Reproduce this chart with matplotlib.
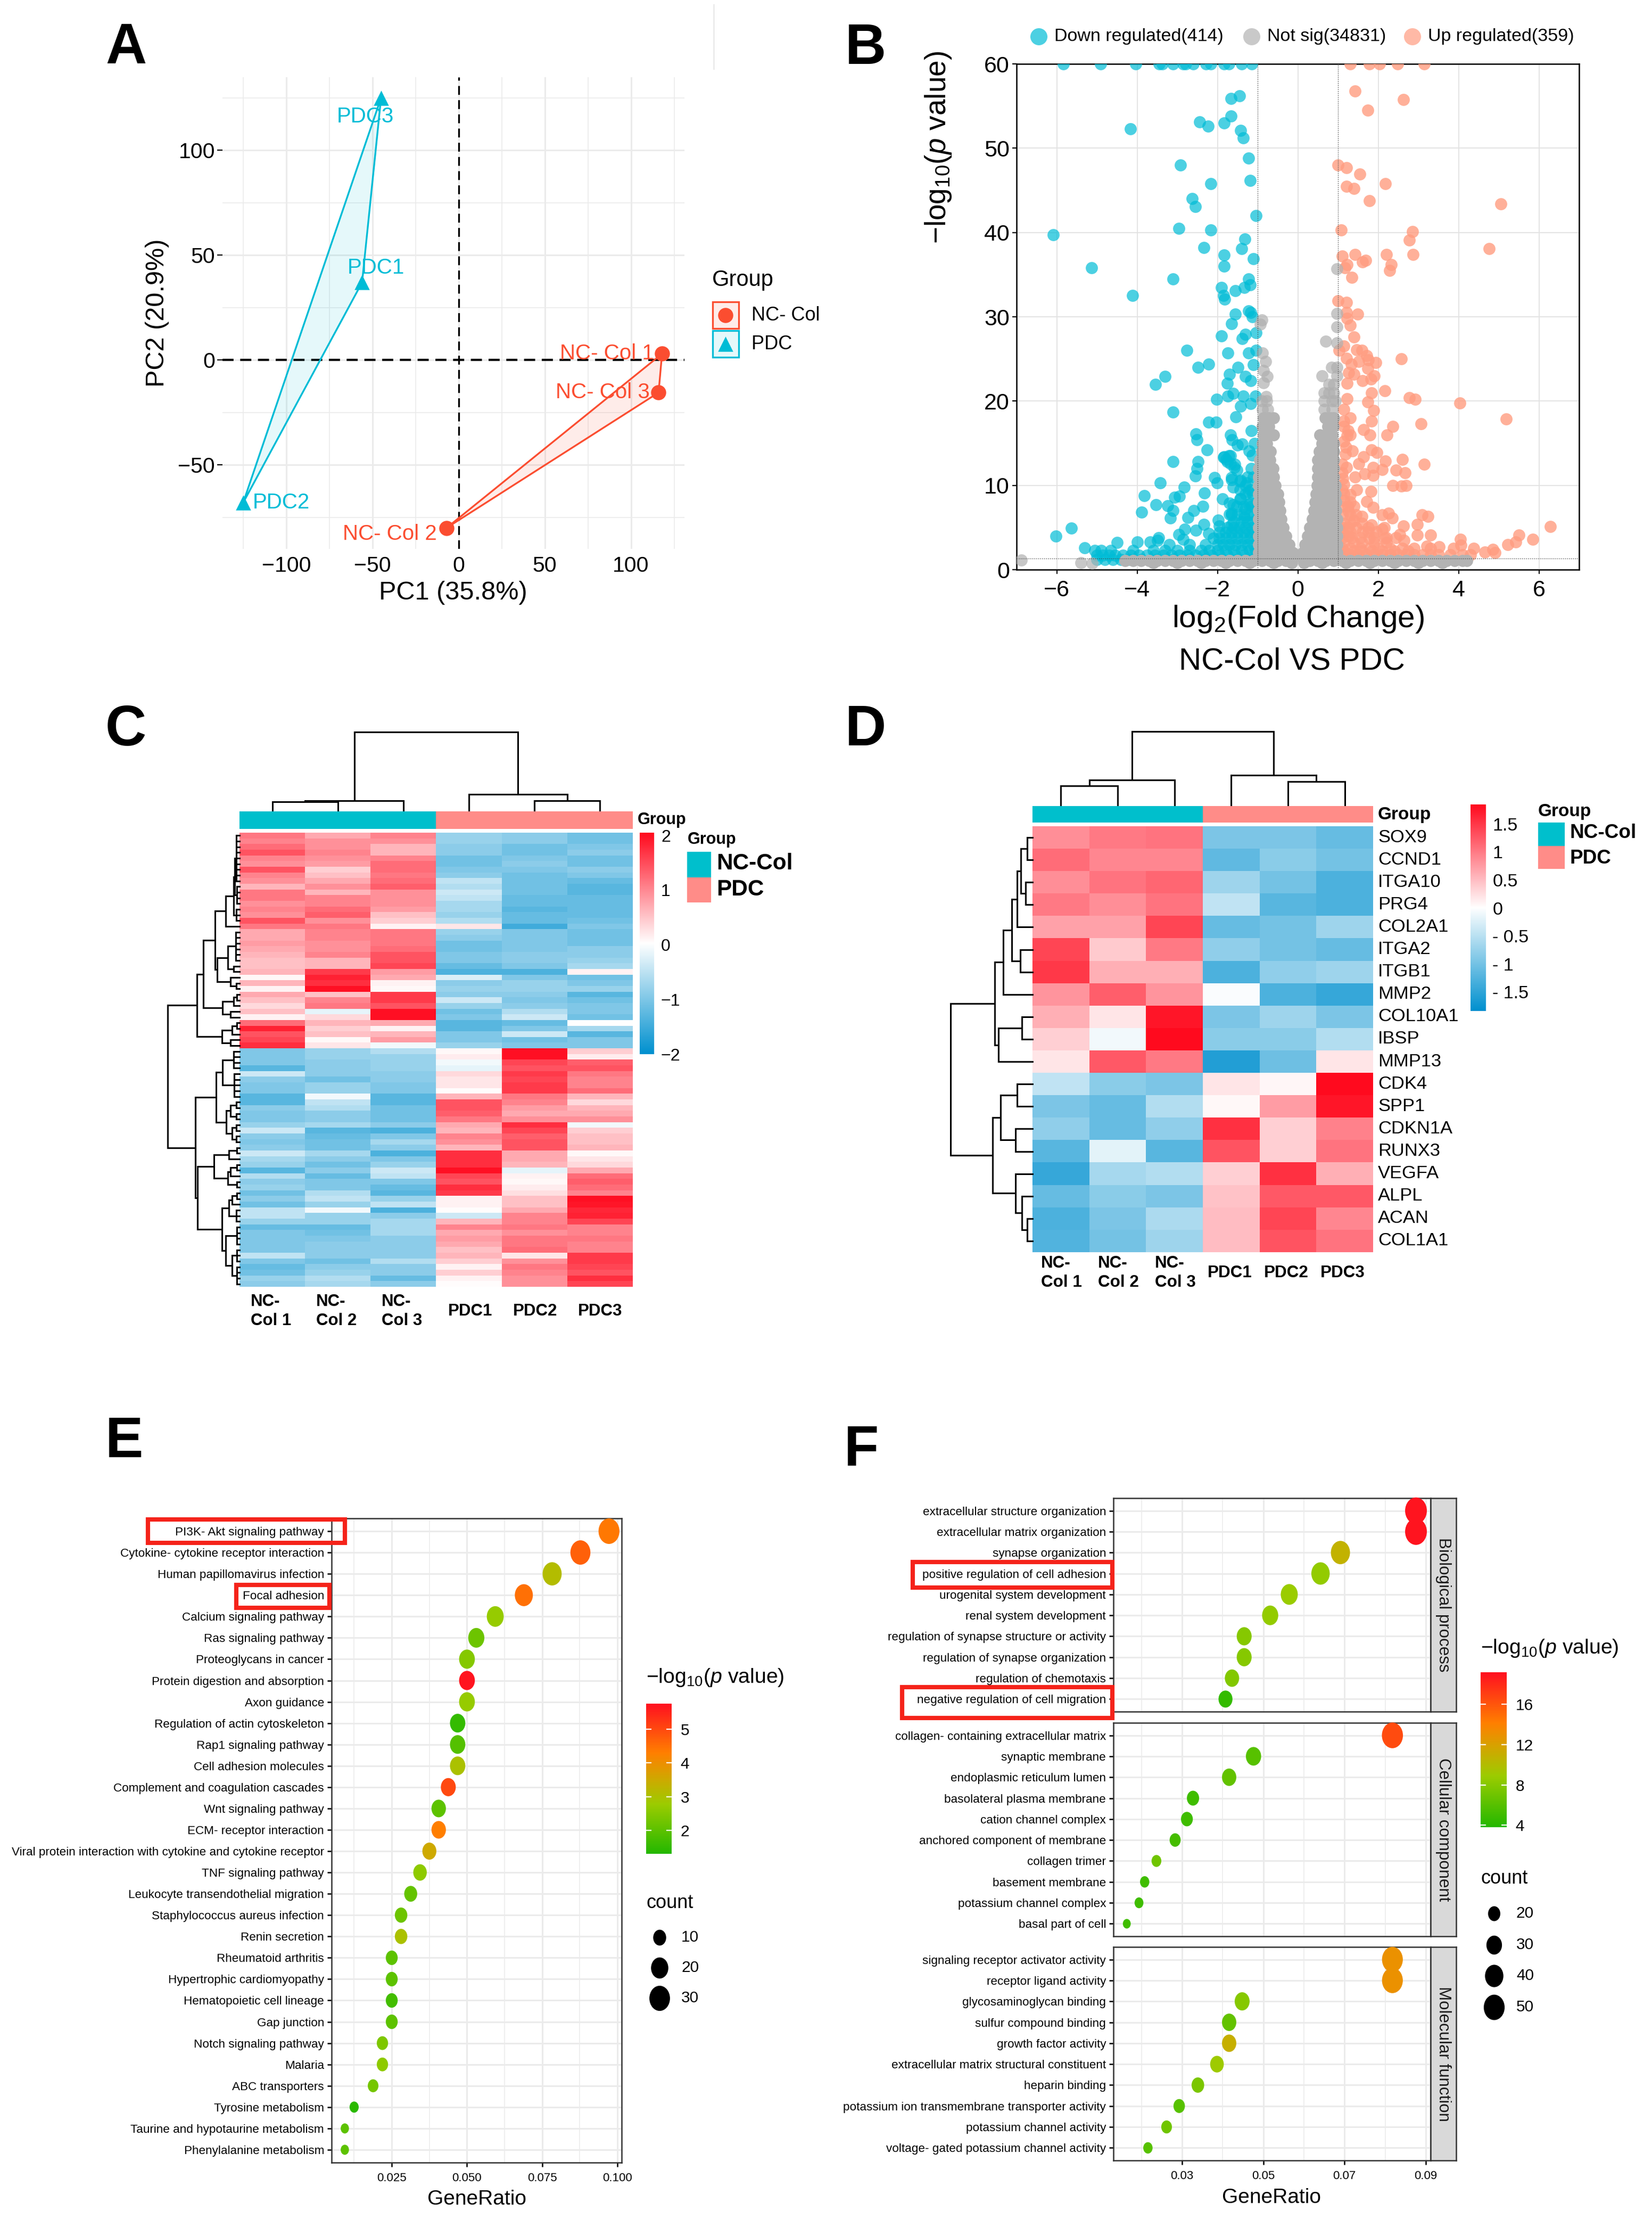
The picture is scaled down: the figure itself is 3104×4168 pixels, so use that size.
#!/usr/bin/env python3
"""Six-panel transcriptome figure: PCA, volcano, two heatmaps, two enrichment dot plots."""

import matplotlib
matplotlib.use("Agg")
import matplotlib.pyplot as plt
import numpy as np
from matplotlib.colors import LinearSegmentedColormap, ListedColormap
from matplotlib.patches import Ellipse, Polygon, Rectangle
from matplotlib.path import Path as MplPath
from matplotlib.transforms import Affine2D

plt.rcParams["font.family"] = ["Liberation Sans", "DejaVu Sans"]
plt.rcParams["mathtext.fontset"] = "custom"
plt.rcParams["mathtext.rm"] = "Liberation Sans"
plt.rcParams["mathtext.it"] = "Liberation Sans:italic"
plt.rcParams["mathtext.bf"] = "Liberation Sans:bold"

W, H = 3104, 4168
OUT = "out.png"

TEAL = "#00BCD6"
ORANGE = "#FB4D30"
ANNOT_TEAL = "#00BFCC"
ANNOT_PINK = "#FF8C88"
GRID = "#EBEBEB"

# ---- panel A
pca_names_nc = ["NC- Col 1", "NC- Col 3", "NC- Col 2"]
pca_x_nc = [118, 116, -7]
pca_y_nc = [3, -15.5, -80]
pca_lx_nc = [86, 83.5, -40]
pca_ly_nc = [3, -15.5, -83]
pca_names_pdc = ["PDC3", "PDC1", "PDC2"]
pca_x_pdc = [-45, -56, -125]
pca_y_pdc = [125, 37, -68]
pca_lx_pdc = [-54, -48, -103]
pca_ly_pdc = [116, 44, -68]

# ---- panel B
down_top_x = [-5.83, -4.91, -4.03, -3.45, -3.37, -3.11, -2.86, -2.79, -2.60, -2.29, -2.16, -1.84, -1.71, -1.40, -1.14]
up_top_x = [1.30, 1.78, 2.03, 2.49, 3.14]
down_pts = [
    (-1.45, 56.2), (-1.66, 55.9), (-1.66, 53.8), (-2.44, 53.1), (-2.23, 52.6), (-1.84, 53.0), (-4.17, 52.3), (-1.42, 52.1),
    (-1.36, 51.2), (-1.22, 48.8), (-2.92, 48.0), (-1.18, 46.2), (-2.17, 45.8), (-2.63, 44.0), (-2.55, 43.1), (-1.04, 42.0),
    (-2.96, 40.5), (-2.17, 40.3), (-6.08, 39.7), (-1.32, 39.2), (-2.34, 38.2), (-1.40, 38.1), (-1.84, 37.3), (-1.10, 36.9),
    (-1.83, 36.0), (-5.13, 35.8), (-3.11, 34.5), (-1.23, 34.5), (-1.90, 33.5), (-1.33, 33.5), (-1.19, 33.8), (-1.55, 33.1),
    (-1.85, 32.5), (-1.82, 32.1), (-4.11, 32.5), (-1.23, 30.7), (-1.17, 30.5), (-1.55, 30.3), (-1.13, 30.0), (-1.65, 29.2),
    (-1.31, 27.9), (-1.04, 28.1), (-1.90, 27.7), (-1.38, 27.4), (-2.76, 26.0), (-1.74, 25.7), (-1.23, 25.7), (-1.04, 26.0),
    (-2.22, 24.4), (-2.48, 24.0), (-1.49, 24.0), (-1.10, 24.3), (-1.70, 23.2), (-1.31, 22.9), (-1.17, 22.4), (-3.30, 22.9),
    (-3.54, 22.0), (-1.75, 22.1), (-1.61, 20.9), (-1.74, 20.6), (-1.36, 20.6), (-1.05, 20.6), (-2.02, 20.2), (-1.17, 19.7),
    (-1.43, 19.4), (-3.10, 18.7), (-1.54, 18.1), (-2.03, 17.5), (-2.22, 17.5), (-1.16, 16.5), (-2.54, 16.1), (-1.68, 16.0),
    (-2.51, 15.4), (-1.64, 15.4), (-1.50, 14.8), (-1.38, 14.9), (-1.08, 15.0), (-2.26, 14.2), (-1.21, 14.1), (-1.84, 13.4),
    (-1.68, 13.5), (-1.13, 13.6), (-3.10, 12.8), (-2.49, 12.8), (-1.75, 12.8), (-1.57, 12.5), (-2.51, 12.0), (-1.51, 11.8),
    (-1.16, 12.0), (-2.55, 11.1), (-2.07, 10.9), (-1.65, 10.9), (-1.43, 10.6), (-3.43, 10.3), (-2.01, 10.3), (-1.27, 10.3),
    (-2.83, 9.8), (-1.61, 9.8), (-2.32, 9.1), (-3.82, 8.8), (-1.23, 9.2), (-3.07, 8.6), (-2.95, 8.7), (-1.88, 8.4),
    (-1.43, 8.4), (-1.70, 7.9), (-3.53, 7.7), (-3.24, 7.6), (-2.36, 7.5), (-1.52, 7.5), (-1.21, 7.7), (-3.11, 7.0),
    (-2.59, 7.0), (-3.89, 6.8), (-1.70, 6.6), (-3.17, 6.1), (-2.73, 6.2), (-1.98, 5.9), (-1.33, 6.2), (-2.34, 5.4),
    (-1.96, 5.2), (-1.65, 5.3), (-2.81, 4.8), (-2.53, 4.7), (-5.63, 4.9), (-2.96, 4.2), (-2.22, 4.3), (-6.02, 4.0),
    (-3.47, 3.8), (-2.86, 3.6), (-4.50, 3.2), (-3.99, 3.3), (-3.68, 3.3), (-3.49, 3.5), (-5.30, 2.6),
    (-1.78, 13.1), (-1.68, 12.6), (-1.58, 12.1), (-1.71, 13.5), (-1.85, 13.3), (-1.65, 10.7), (-1.44, 10.5), (-1.31, 10.0),
    (-1.17, 9.5), (-1.44, 9.5), (-1.61, 7.7), (-1.44, 8.4), (-1.65, 6.7), (-1.31, 7.2), (-1.17, 7.9),
]
down_rows = [
    (1.2, [-5.0, -4.8, -4.6, -4.4, -4.2, -3.9, -3.5, -3.1, -2.7, -2.3, -1.9, -1.5, -1.1]),
    (1.7, [-5.0, -4.85, -4.7, -4.55, -4.35, -4.15, -3.95, -3.75, -3.55, -3.35, -3.15, -2.95, -2.75, -2.55, -2.35, -2.15, -1.95, -1.75, -1.55, -1.35, -1.15]),
    (2.3, [-5.05, -4.9, -4.65, -4.1, -3.6, -3.3, -3.0, -2.7, -2.4, -2.2, -2.0, -1.8, -1.6, -1.4, -1.2, -1.05]),
    (3.0, [-3.2, -2.7, -2.3, -2.0, -1.85, -1.7, -1.55, -1.4, -1.25, -1.1]),
    (3.7, [-2.1, -1.95, -1.8, -1.65, -1.5, -1.35, -1.2, -1.05]),
    (4.4, [-1.95, -1.8, -1.65, -1.5, -1.35, -1.2, -1.08]),
    (5.0, [-1.75, -1.6, -1.45, -1.3, -1.15]),
    (5.7, [-1.6, -1.4, -1.25, -1.1]),
    (6.5, [-1.65, -1.5, -1.35, -1.2, -1.08]),
    (7.5, [-1.35, -1.15]),
    (9.0, [-1.3, -1.12]),
    (11.0, [-1.25, -1.1]),
]
up_pts = [
    (1.43, 56.8), (2.63, 55.8), (1.74, 54.5), (1.0, 48.0), (1.21, 47.7), (1.54, 46.9), (2.18, 45.8), (1.21, 45.5), (1.40, 45.2),
    (1.78, 43.8), (5.05, 43.4), (1.08, 40.3), (2.86, 40.1), (2.77, 39.1), (4.76, 38.1), (1.10, 37.2), (1.42, 37.4), (2.21, 37.4),
    (2.87, 37.4), (1.69, 36.7), (1.61, 36.5), (1.23, 36.2), (1.17, 35.8), (2.32, 36.2), (2.29, 35.5), (1.35, 34.7), (1.0, 31.9),
    (1.21, 31.7), (1.21, 30.5), (1.49, 30.3), (1.23, 29.8), (1.30, 29.0), (1.40, 27.6), (1.14, 26.5), (1.02, 26.0), (1.46, 26.1),
    (1.59, 26.0), (2.57, 25.0), (1.71, 25.4), (1.75, 24.9), (1.21, 25.1), (1.52, 24.7), (1.94, 24.6), (1.33, 24.4), (1.74, 23.9),
    (1.27, 23.4), (1.40, 23.2), (1.90, 23.0), (1.82, 22.6), (1.61, 22.4), (1.23, 22.1), (1.84, 21.0), (2.16, 21.2), (2.78, 20.4),
    (2.92, 20.2), (4.03, 19.8), (1.23, 20.3), (1.74, 19.9), (1.89, 18.9), (5.18, 17.9), (1.31, 18.0), (1.14, 17.6), (1.84, 17.6),
    (3.06, 17.3), (2.37, 17.0), (1.63, 16.6), (1.80, 16.0), (2.22, 16.0), (1.23, 15.9), (1.14, 15.2), (1.84, 14.2), (1.97, 13.9),
    (1.36, 14.1), (2.60, 13.1), (1.63, 13.4), (1.18, 13.7), (2.18, 12.9), (1.52, 12.6), (3.14, 12.5), (1.88, 12.1), (1.21, 12.1),
    (2.10, 11.9), (2.45, 11.8), (1.66, 11.4), (2.67, 11.5), (1.87, 11.2), (1.43, 11.0), (1.12, 10.8), (2.37, 10.0), (2.58, 9.9),
    (2.70, 10.0), (1.14, 10.1), (1.82, 9.3), (1.46, 9.5), (1.31, 8.9), (1.71, 8.1), (1.87, 7.4), (1.14, 8.2), (1.27, 6.9),
    (2.10, 6.5), (2.26, 6.7), (3.09, 6.5), (3.24, 6.3), (1.59, 6.3), (2.98, 5.4), (2.63, 5.2), (6.29, 5.1), (2.35, 6.1),
    (1.40, 5.8), (1.84, 5.3), (5.50, 4.1), (2.98, 4.1), (3.31, 4.1), (2.10, 4.8), (1.61, 4.5), (2.54, 4.2), (4.04, 3.6),
    (5.85, 3.6), (2.16, 3.7), (1.78, 3.7), (1.27, 4.0), (2.64, 3.5), (5.42, 3.3), (5.23, 3.0), (3.21, 2.8), (3.52, 2.7),
    (4.06, 2.9), (3.87, 2.5), (4.38, 2.5), (4.86, 2.4), (4.66, 2.1), (4.91, 2.0),
    (1.1, 11.5), (1.1, 12.5), (1.1, 9.5), (1.15, 9.0), (1.3, 8.0), (1.2, 14.5), (1.25, 16.5), (1.15, 19.0), (1.15, 17.0), (1.3, 16.0),
]
up_rows = [
    (1.8, [1.1, 1.3, 1.5, 1.7, 1.9, 2.1, 2.3, 2.5, 2.7, 2.9, 3.1, 3.3, 3.5, 3.8, 4.1, 4.3]),
    (2.2, [1.15, 1.4, 1.6, 1.85, 2.1, 2.4, 2.75]),
    (2.5, [1.1, 1.3, 1.55, 1.8, 2.0, 2.3, 2.6, 2.9, 3.3]),
    (3.2, [1.15, 1.4, 1.6, 1.9, 2.2]),
    (3.8, [1.1, 1.35, 1.55, 1.9, 2.2, 2.45]),
    (4.5, [1.1, 1.3, 1.75, 1.95]),
    (5.0, [1.1, 1.25, 1.45, 1.75, 2.15]),
    (5.5, [1.15, 1.3, 1.6]),
    (6.5, [1.1, 1.3, 1.45]),
    (7.5, [1.1, 1.25, 1.4]),
]
# scattered grey points, drawn see-through
grey_pts = [
    (-6.88, 1.15), (-5.4, 0.84), (-5.12, 0.78), (-0.79, 20.5), (-0.85, 22.2), (-0.76, 22.9), (-0.85, 23.6), (-0.80, 24.7),
    (-0.88, 25.7), (-0.94, 29.1), (-0.89, 29.6), (0.7, 27.1), (0.97, 26.9), (0.97, 28.8), (0.97, 30.4), (0.97, 35.7),
    (-0.88, 19), (-0.75, 19), (-0.9, 20), (-0.78, 20), (0.65, 19), (0.85, 19), (0.66, 20), (0.85, 20), (0.93, 20),
    (0.66, 21), (0.78, 21), (0.9, 21), (0.77, 22), (0.9, 22), (0.6, 23), (0.97, 23), (0.84, 24), (0.97, 24),
]
# solid grey core of the two lobes and the band along the bottom
grey_rows = [
    (1.1, [-4.3, -4.1, -3.9, -3.7, -3.5, -3.3, -3.1, -2.9, -2.7, -2.5, -2.3, -2.1, -1.9, -1.7, -1.5, -1.3, -1.1, -0.9, -0.7, -0.5, -0.3,
           0.3, 0.5, 0.7, 0.9, 1.1, 1.3, 1.5, 1.7, 1.9, 2.1, 2.3, 2.5, 2.7, 2.9, 3.1, 3.3, 3.5, 3.7, 3.9, 4.1, 4.2]),
    (0.8, [-3.6, -3.0, -2.4, -1.8, -1.2, -0.6, -0.15, 0.15, 0.6, 1.2, 1.8, 2.4, 3.0, 3.6]),
    (1.5, [-0.1, 0.1]),
    (2, [-0.97, -0.85, -0.7, -0.55, -0.4, -0.3, -0.2, -0.12, 0.12, 0.22, 0.35, 0.5, 0.65, 0.8, 0.97]),
    (3, [-0.97, -0.85, -0.72, -0.6, -0.45, -0.32, -0.22, 0.18, 0.3, 0.45, 0.6, 0.75, 0.9, 0.97]),
    (4, [-0.97, -0.85, -0.72, -0.56, -0.42, -0.3, 0.25, 0.35, 0.5, 0.65, 0.8, 0.97]),
    (5, [-0.97, -0.85, -0.75, -0.6, -0.45, -0.37, 0.3, 0.42, 0.58, 0.72, 0.88, 0.97]),
    (6, [-0.97, -0.85, -0.7, -0.55, -0.42, 0.36, 0.46, 0.6, 0.75, 0.9, 0.97]),
    (7, [-0.97, -0.85, -0.72, -0.58, -0.45, 0.4, 0.5, 0.65, 0.8, 0.95]),
    (8, [-0.97, -0.85, -0.7, -0.55, -0.47, 0.43, 0.52, 0.68, 0.82, 0.95]),
    (9, [-0.97, -0.85, -0.75, -0.6, -0.5, 0.46, 0.56, 0.7, 0.85, 0.93]),
    (10, [-0.97, -0.85, -0.7, -0.56, 0.48, 0.58, 0.72, 0.87, 0.93]),
    (11, [-0.97, -0.85, -0.72, -0.6, 0.5, 0.6, 0.75, 0.9]),
    (12, [-0.97, -0.85, -0.72, -0.62, 0.5, 0.62, 0.78, 0.9]),
    (13, [-0.95, -0.85, -0.7, 0.5, 0.65, 0.8, 0.9]),
    (14, [-0.9, -0.8, -0.68, 0.53, 0.65, 0.75, 0.9]),
    (15, [-0.88, -0.78, 0.6, 0.75, 0.9]),
    (16, [-0.85, -0.7, -0.6, 0.55, 0.7, 0.85]),
    (17, [-0.88, -0.72, 0.75, 0.88]),
    (18, [-0.85, -0.72, -0.6, 0.68, 0.82, 0.9]),
]

# ---- panel C (one row per band, top to bottom)
heat_c = [
    [1.1, .7, 1.0, -.8, -.9, -1.1], [1.0, .9, .9, -.8, -.9, -1.1], [1.2, .9, .6, -.9, -1.1, -1.0], [1.4, 1.0, .6, -.9, -1.1, -.9],
    [1.0, .9, 1.0, -1.1, -1.0, -1.1], [.9, .8, 1.2, -1.1, -.9, -1.1], [1.4, .4, 1.2, -1.0, -1.0, -.9], [1.0, .5, 1.1, -.9, -1.1, -1.0],
    [.9, .7, 1.2, -.5, -1.1, -1.2], [.6, .9, 1.3, -.6, -1.1, -1.3], [1.1, .6, .9, -.4, -1.1, -1.3], [1.1, 1.0, .9, -.5, -1.2, -1.2],
    [.9, 1.0, .9, -.7, -1.2, -1.2], [1.0, 1.2, .8, -.7, -1.3, -1.2], [.9, 1.3, .5, -.8, -1.2, -1.2], [1.4, .9, .4, -.6, -1.2, -1.1],
    [1.1, 1.1, .1, .2, -1.5, -1.0], [.7, 1.0, 1.1, -.8, -1.0, -1.1], [.7, 1.0, 1.1, -.9, -1.0, -1.1], [.8, .9, 1.1, -1.1, -1.0, -1.1],
    [.7, .9, 1.2, -1.1, -1.0, -.9], [.6, 1.0, 1.4, -1.0, -.9, -.9], [.5, .6, 1.4, -1.0, -.9, -.8], [.5, .6, 1.5, -1.2, -1.0, -.7],
    [.6, 1.6, .8, -1.4, -1.4, .1], [.05, 1.8, .7, -.3, -1.0, -1.1], [.6, 1.7, .1, -.9, -.8, -1.0], [.1, 1.95, .05, -.8, -.8, -.8],
    [.7, .5, 1.6, -.9, -.9, -1.3], [.5, 1.0, 1.6, -.4, -1.0, -1.1], [.3, 1.1, 1.4, -.8, -.9, -1.0], [.5, -.2, 1.95, -1.1, -.6, -1.0],
    [.1, .3, 1.95, -1.0, -.4, -1.1], [1.2, .6, .7, -1.3, -1.2, .0], [1.8, .4, .1, -1.3, -1.0, -.7], [1.4, .5, .6, -1.0, -.4, -1.3],
    [1.5, .05, .8, -1.0, -1.1, -1.0], [1.7, .2, -.1, -.8, -1.0, -1.0], [-1.0, -.8, -.6, .05, 1.95, .4], [-1.0, -.8, -.8, .15, 1.95, .15],
    [-1.0, -.9, -.8, -.1, 1.5, 1.3], [-1.3, -.9, -.8, -.2, 1.4, 1.4], [-.4, -.9, -.9, .3, 1.6, 1.1], [-.9, -1.1, -.9, .2, 1.5, 1.0],
    [-1.0, -.8, -1.0, .2, 1.6, 1.0], [-1.0, -.8, -1.0, .02, 1.6, 1.2], [-1.3, -.1, -1.3, .6, 1.1, .6], [-1.3, -.5, -1.3, 1.4, 1.0, .3],
    [-.9, -.6, -1.1, 1.4, .8, .6], [-1.0, -.9, -1.1, 1.3, .7, .7], [-1.0, -.9, -1.1, 1.1, .9, .9], [-.8, -.7, -.9, .7, 1.7, -.1],
    [-.4, -1.3, -1.4, .6, 1.5, .4], [-.9, -1.2, -1.0, 1.0, 1.3, .5], [-1.0, -1.1, -.7, .9, 1.4, .5], [-.9, -1.1, -.9, .6, 1.4, .6],
    [-.4, -.7, -1.4, 1.7, .7, .05], [-.7, -.9, -1.0, 1.7, .7, .2], [-.8, -1.1, -.8, 1.7, .6, .3], [-1.3, -.9, -.4, 1.95, -.2, .7],
    [-.6, -1.2, -.5, 1.5, .1, 1.2], [-.9, -1.0, -1.0, 1.4, .05, 1.3], [-.8, -1.0, -1.2, 1.7, .15, 1.2], [-1.1, -.6, -1.3, 1.6, .25, 1.0],
    [-.9, -.5, -.8, .1, .5, 1.95], [-1.1, -.8, -.5, .1, .5, 1.9], [-.5, -.1, -1.4, .02, .7, 1.75], [-.5, -.8, -.9, -.4, 1.0, 1.8],
    [-.8, -.8, -.7, .6, 1.0, 1.5], [-1.2, -1.2, -.7, 1.0, 1.1, 1.0], [-1.0, -1.1, -.7, .7, .9, 1.0], [-1.0, -1.0, -.9, .8, 1.1, 1.1],
    [-1.0, -.9, -.9, .7, 1.1, 1.0], [-1.0, -.9, -.9, .5, 1.2, 1.0], [-.5, -.9, -.9, .6, .2, 1.6], [-1.0, -1.1, -.6, .4, .9, 1.6],
    [-1.2, -.9, -.9, .1, 1.1, 1.5], [-1.1, -.8, -.9, .4, 1.0, 1.4], [-.8, -.6, -1.2, .1, .9, 1.7], [-.9, -.7, -.9, .02, .9, 1.5],
]
# dendrograms: (height, child, child); int = one row, [first, last, height] = tight bundle of rows
c_cols = (192, (23, (21, 0, 1), 2), (39, 3, (23, 4, 5)))
c_rows = (235,
          (140,
           (119,
            (80,
             (45, (20, (15, [0, 8, 10], [9, 12, 8]), [13, 15, 10]), [16, 16, 4]),
             (73, (38, [17, 22, 12], [23, 24, 20]), (30, [25, 25, 8], [26, 27, 10]))),
            (55, (20, [28, 29, 8], [30, 30, 4]), (30, [31, 31, 8], [32, 32, 4]))),
           (57, (25, [33, 34, 8], [35, 35, 4]), (30, [36, 36, 4], [37, 37, 4]))),
          (145,
           (77,
            (55, [38, 41, 20], [42, 46, 18]),
            (43, (30, [47, 48, 10], [49, 50, 10]), (25, [51, 52, 10], [53, 54, 10]))),
           (138,
            (83, (35, [55, 56, 8], [57, 57, 4]), (38, (30, [58, 59, 8], [60, 60, 4]), [61, 62, 8])),
            (58, (35, (25, [63, 64, 8], [65, 65, 4]), [66, 68, 10]),
             (45, [69, 72, 8], (25, [73, 75, 8], [76, 79, 8]))))))

# ---- panel D
d_genes = ["SOX9", "CCND1", "ITGA10", "PRG4", "COL2A1", "ITGA2", "ITGB1", "MMP2", "COL10A1", "IBSP", "MMP13",
           "CDK4", "SPP1", "CDKN1A", "RUNX3", "VEGFA", "ALPL", "ACAN", "COL1A1"]
heat_d = [
    [.85, 1.0, 1.05, -.95, -.95, -1.1], [1.1, .9, .9, -1.15, -.85, -1.0], [.85, 1.05, 1.15, -.7, -1.0, -1.3],
    [1.0, .85, 1.05, -.45, -1.2, -1.3], [.7, .7, 1.4, -1.1, -1.0, -.7], [1.4, .4, 1.0, -.8, -1.0, -1.1],
    [1.5, .6, .6, -1.3, -.8, -.7], [.8, 1.2, .8, -.03, -1.3, -1.45], [.6, .2, 1.75, -.95, -.7, -.95],
    [.35, -.1, 1.85, -.85, -.85, -.55], [.2, 1.25, 1.0, -1.6, -1.05, .2], [-.45, -.85, -.95, .2, .07, 1.85],
    [-.95, -1.1, -.55, .05, .75, 1.75], [-.8, -1.1, -.8, 1.55, .35, .95], [-1.2, -.2, -1.2, 1.3, .35, 1.05],
    [-1.45, -.65, -.55, .35, 1.55, .6], [-1.1, -.85, -.95, .45, 1.25, 1.25], [-1.3, -.95, -.6, .5, 1.4, .9],
    [-1.25, -1.0, -.7, .5, 1.3, 1.05],
]
d_cols = (197, (67, (51, 0, 1), 2), (80, 3, (63, 4, 5)))
d_rows = (178,
          (82,
           (64, (45, (33, (25, (11, 0, 1), (15, 2, 3)), 4), (27, 5, 6)), 7),
           (74, (23, 8, 9), 10)),
          (87,
           (69, (34, 11, 12), (37, 13, 14)),
           (37, 15, (23, 16, (12, 17, 18)))))
heat_cols_nc = ["NC-\nCol 1", "NC-\nCol 2", "NC-\nCol 3"]
heat_cols_pdc = ["PDC1", "PDC2", "PDC3"]

# ---- panel E
e_terms = ["PI3K- Akt signaling pathway", "Cytokine- cytokine receptor interaction", "Human papillomavirus infection",
           "Focal adhesion", "Calcium signaling pathway", "Ras signaling pathway", "Proteoglycans in cancer",
           "Protein digestion and absorption", "Axon guidance", "Regulation of actin cytoskeleton", "Rap1 signaling pathway",
           "Cell adhesion molecules", "Complement and coagulation cascades", "Wnt signaling pathway", "ECM- receptor interaction",
           "Viral protein interaction with cytokine and cytokine receptor", "TNF signaling pathway",
           "Leukocyte transendothelial migration", "Staphylococcus aureus infection", "Renin secretion", "Rheumatoid arthritis",
           "Hypertrophic cardiomyopathy", "Hematopoietic cell lineage", "Gap junction", "Notch signaling pathway", "Malaria",
           "ABC transporters", "Tyrosine metabolism", "Taurine and hypotaurine metabolism", "Phenylalanine metabolism"]
e_ratio = [.0972, .0877, .0783, .0689, .0594, .0531, .0500, .0500, .0500, .0469, .0469, .0469, .0438, .0406, .0406,
           .0375, .0344, .0313, .0281, .0281, .0250, .0250, .0250, .0250, .0219, .0219, .0188, .0125, .0094, .0094]
e_count = [31, 28, 25, 22, 19, 17, 16, 16, 16, 15, 15, 15, 14, 13, 13, 12, 11, 10, 9, 9, 8, 8, 8, 8, 7, 7, 6, 4, 3, 3]
e_logp = [4.4, 4.7, 3.1, 4.5, 2.7, 2.2, 2.5, 5.7, 2.7, 1.5, 1.9, 3.0, 5.0, 2.0, 4.3, 3.5, 2.6, 2.1, 2.2, 3.0,
          2.0, 2.0, 1.7, 2.0, 2.4, 2.6, 2.3, 1.4, 2.0, 2.0]

# ---- panel F
f_bp_terms = ["extracellular structure organization", "extracellular matrix organization", "synapse organization",
              "positive regulation of cell adhesion", "urogenital system development", "renal system development",
              "regulation of synapse structure or activity", "regulation of synapse organization", "regulation of chemotaxis",
              "negative regulation of cell migration"]
f_bp_ratio = [.0876, .0876, .0690, .0641, .0564, .0517, .0453, .0453, .0423, .0407]
f_bp_count = [54, 54, 43, 40, 35, 32, 28, 28, 26, 25]
f_bp_logp = [19, 19, 10.8, 8.5, 8.8, 8.5, 8, 8, 7.8, 4.5]
f_cc_terms = ["collagen- containing extracellular matrix", "synaptic membrane", "endoplasmic reticulum lumen",
              "basolateral plasma membrane", "cation channel complex", "anchored component of membrane", "collagen trimer",
              "basement membrane", "potassium channel complex", "basal part of cell"]
f_cc_ratio = [.0818, .0476, .0416, .0327, .0312, .0283, .0237, .0208, .0194, .0164]
f_cc_count = [51, 29, 26, 20, 19, 17, 14, 13, 12, 10]
f_cc_logp = [16.5, 6, 6.5, 5, 5, 5.2, 7, 5, 5, 5]
f_mf_terms = ["signaling receptor activator activity", "receptor ligand activity", "glycosaminoglycan binding",
              "sulfur compound binding", "growth factor activity", "extracellular matrix structural constituent", "heparin binding",
              "potassium ion transmembrane transporter activity", "potassium channel activity",
              "voltage- gated potassium channel activity"]
f_mf_ratio = [.0818, .0818, .0448, .0416, .0416, .0386, .0339, .0293, .0262, .0216]
f_mf_count = [50, 50, 28, 26, 26, 24, 21, 18, 16, 13]
f_mf_logp = [13, 13, 8, 6.5, 11, 9, 7.5, 6, 7, 6]

heat_cmap = LinearSegmentedColormap.from_list("heat", ["#0090CF", "#FFFFFF", "#FF0A1E"])
dot_cmap = LinearSegmentedColormap.from_list(
    "dot", [(0, "#24B800"), (0.33, "#9CCC00"), (0.5, "#D0A800"), (0.67, "#FF8000"), (1, "#FF1020")]
)
LOG_LABEL = "\u2212log$_{10}$($\\mathit{p}$ value)"

fig = plt.figure(figsize=(W / 100, H / 100), dpi=100, facecolor="white")


def px_axes(left, top, right, bottom, **kw):
    return fig.add_axes([left / W, 1 - bottom / H, (right - left) / W, (bottom - top) / H], **kw)


# overlay in image pixels, for legends, letters and highlight boxes
ov = fig.add_axes([0, 0, 1, 1], zorder=20)
ov.set_xlim(0, W)
ov.set_ylim(H, 0)
ov.axis("off")
ov.patch.set_alpha(0)


def label(x, y, s, size=24, ha="left", va="center", **kw):
    ov.text(x, y, s, fontsize=size, ha=ha, va=va, **kw)


def rows_to_xy(pts, rows, top_x=()):
    xs = [p[0] for p in pts] + list(top_x)
    ys = [p[1] for p in pts] + [60] * len(top_x)
    for y, row in rows:
        xs += row
        ys += [y] * len(row)
    return xs, ys


def draw_tree(ax, node, horizontal):
    """horizontal: root to the left of the rows; otherwise root above the columns."""

    def seg(h0, p0, h1, p1):
        if horizontal:
            ax.plot([h0, h1], [p0, p1], color="black", lw=2.2, solid_capstyle="projecting", clip_on=False)
        else:
            ax.plot([p0, p1], [h0, h1], color="black", lw=2.2, solid_capstyle="projecting", clip_on=False)

    if isinstance(node, int):
        return node + 0.5, 0
    if isinstance(node, list):
        first, last, h = node
        for i in range(first, last + 1):
            seg(0, i + 0.5, h, i + 0.5)
        seg(h, first + 0.5, h, last + 0.5)
        return (first + last + 1) / 2, h
    h, a, b = node
    pa, ha = draw_tree(ax, a, horizontal)
    pb, hb = draw_tree(ax, b, horizontal)
    seg(ha, pa, h, pa)
    seg(hb, pb, h, pb)
    seg(h, pa, h, pb)
    return (pa + pb) / 2, h


def draw_heatmap(values, box, vlim, annot_box):
    ax = px_axes(*box)
    ax.imshow(np.array(values), aspect="auto", cmap=heat_cmap, vmin=-vlim, vmax=vlim, interpolation="nearest")
    ax.axis("off")
    an = px_axes(*annot_box)
    an.imshow([[0, 0, 0, 1, 1, 1]], aspect="auto", cmap=ListedColormap([ANNOT_TEAL, ANNOT_PINK]), interpolation="nearest")
    an.axis("off")


def draw_colorbar(box, vmin, vmax, cmap, ticks, tick_labels, pad, size, marks=False):
    ax = px_axes(*box)
    ax.imshow(np.linspace(vmax, vmin, 256)[:, None], aspect="auto", cmap=cmap, extent=[0, 1, vmin, vmax], vmin=vmin, vmax=vmax)
    ax.set_xticks([])
    ax.yaxis.tick_right()
    ax.set_yticks(ticks)
    ax.set_yticklabels(tick_labels, fontsize=size)
    ax.tick_params(axis="y", length=0, pad=pad)
    for s in ax.spines.values():
        s.set_visible(False)
    if marks:
        ax.hlines(ticks, 0, 0.2, color="white", lw=1.6)
        ax.hlines(ticks, 0.8, 1, color="white", lw=1.6)


def dot_height(count, a, b):
    return a + b * np.sqrt(count)


def dot_marker():
    return MplPath.unit_circle().transformed(Affine2D().scale(0.82, 1))


def draw_dots(ax, ratio, terms, count, logp, norm_lim, a, b, label_size):
    ys = np.arange(len(terms))
    sizes = (dot_height(np.array(count), a, b) * 0.72) ** 2
    ax.scatter(ratio, ys, s=sizes, c=logp, cmap=dot_cmap, vmin=norm_lim[0], vmax=norm_lim[1], marker=dot_marker(),
               linewidths=0, zorder=3, clip_on=False)
    ax.set_ylim(len(terms) - 0.4, -0.6)
    ax.set_yticks(ys)
    ax.set_yticklabels(terms, fontsize=label_size)
    ax.tick_params(axis="y", length=6, width=1.8, pad=4)
    ax.grid(axis="y", color=GRID, lw=2.2)
    for s in ax.spines.values():
        s.set_color("#333333")
        s.set_linewidth(1.8)
    ax.set_axisbelow(True)


def x_grid(ax, major, minor):
    ax.set_xticks(major)
    ax.set_xticks(minor, minor=True)
    ax.grid(axis="x", which="major", color=GRID, lw=2.2)
    ax.grid(axis="x", which="minor", color=GRID, lw=1.1)
    ax.tick_params(axis="x", which="minor", length=0)


# ---- A
ax = px_axes(418, 145, 1286, 1031)
ax.set_xlim(-137, 131)
ax.set_ylim(-90, 134.8)
ax.set_xticks([-100, -50, 0, 50, 100])
ax.set_xticks([-125, -75, -25, 25, 75, 125], minor=True)
ax.set_yticks([-50, 0, 50, 100])
ax.set_yticks([-75, -25, 25, 75, 125], minor=True)
ax.grid(which="major", color=GRID, lw=2.2)
ax.grid(which="minor", color=GRID, lw=1.2)
ax.tick_params(which="minor", length=0)
ax.tick_params(axis="y", labelsize=29.5, length=7, width=1.6, pad=3)
ax.tick_params(axis="x", labelsize=29.5, length=0, pad=9)
for s in ax.spines.values():
    s.set_visible(False)
ax.set_axisbelow(True)
ax.axhline(0, color="black", lw=3, dashes=(5, 3), zorder=2)
ax.axvline(0, color="black", lw=2.4, dashes=(5, 3), zorder=2)
for xs, ys, lxs, lys, names, col, mk in [
    (pca_x_nc, pca_y_nc, pca_lx_nc, pca_ly_nc, pca_names_nc, ORANGE, "o"),
    (pca_x_pdc, pca_y_pdc, pca_lx_pdc, pca_ly_pdc, pca_names_pdc, TEAL, "^"),
]:
    verts = list(zip(xs, ys))
    ax.add_patch(Polygon(verts, closed=True, facecolor=col, edgecolor="none", alpha=0.1, zorder=2))
    ax.add_patch(Polygon(verts, closed=True, fill=False, edgecolor=col, lw=2.4, zorder=3))
    ax.scatter(xs, ys, s=420, color=col, marker=mk, linewidths=0, zorder=4, clip_on=False)
    for lx, ly, name in zip(lxs, lys, names):
        ax.text(lx, ly, name, color=col, fontsize=29, ha="center", va="center", zorder=5)
label(295, 588, "PC2 (20.9%)", size=35, ha="center", rotation=90)
label(851, 1113, "PC1 (35.8%)", size=35, ha="center")
label(1338, 526, "Group", size=30)
for top, col, mk, name, ty in [(567, ORANGE, "o", "NC- Col", 593), (621, TEAL, "^", "PDC", 647)]:
    ov.add_patch(Rectangle((1339, top), 49, 50, facecolor=col, alpha=0.1, edgecolor="none"))
    ov.add_patch(Rectangle((1339, top), 49, 50, fill=False, edgecolor=col, lw=2.4))
    ov.scatter([1363], [top + 25], s=420, color=col, marker=mk, linewidths=0)
    label(1412, ty, name, size=26)
ov.plot([1341, 1341], [8, 130], color="#D8D8D8", lw=0.9)

# ---- B
ax = px_axes(1910, 120, 2967, 1070)
ax.set_xlim(-7, 7)
ax.set_ylim(0, 60)
ax.set_xticks([-6, -4, -2, 0, 2, 4, 6])
ax.set_yticks([0, 10, 20, 30, 40, 50, 60])
ax.grid(color="#E2E2E2", lw=1.3)
ax.set_axisbelow(True)
ax.tick_params(labelsize=31, length=6, width=1.6)
ax.tick_params(axis="x", pad=8)
for s in ax.spines.values():
    s.set_linewidth(1.8)
dx, dy = rows_to_xy(down_pts, down_rows, down_top_x)
ux, uy = rows_to_xy(up_pts, up_rows, up_top_x)
gx, gy = rows_to_xy([], grey_rows)
DOT = 270
ax.scatter(dx, dy, s=DOT, color=TEAL, alpha=0.7, linewidths=0, zorder=3)
ax.scatter(ux, uy, s=DOT, color="#FF9C80", alpha=0.8, linewidths=0, zorder=3)
ax.scatter(*zip(*grey_pts), s=DOT, color="#B0B0B0", alpha=0.7, linewidths=0, zorder=4)
ax.scatter(gx, gy, s=DOT, color="#B3B3B3", linewidths=0, zorder=4)
for v in (-1, 1):
    ax.axvline(v, color="#444444", lw=1, ls=":", zorder=5)
ax.axhline(1.3, color="#444444", lw=1, ls=":", zorder=5)
for cx, tx, col, name in [(1952, 1981, TEAL, "Down regulated(414)"), (2352, 2381, "#B3B3B3", "Not sig(34831)"),
                          (2654, 2683, "#FF9C80", "Up regulated(359)")]:
    ov.add_patch(Ellipse((cx, 69), 32, 32, facecolor=col, alpha=0.7, edgecolor="none"))
    label(tx, 68, name, size=24.5)
label(1763, 277, LOG_LABEL, size=39.5, ha="center", rotation=90)
label(2439, 1163, "log$_2$(Fold Change)", size=42, ha="center")
label(2427, 1242, "NC-Col VS PDC", size=42, ha="center")

# ---- C
draw_heatmap(heat_c, (450, 1564, 1189, 2417), 2.0, (450, 1524, 1189, 1557))
tree_ax = px_axes(313, 1564, 450, 2417)
tree_ax.set_xlim(238.7, 0)
tree_ax.set_ylim(len(heat_c), 0)
tree_ax.axis("off")
draw_tree(tree_ax, c_rows, True)
tree_ax = px_axes(450, 1375, 1189, 1522)
tree_ax.set_xlim(0, 6)
tree_ax.set_ylim(0, 192)
tree_ax.axis("off")
draw_tree(tree_ax, c_cols, False)
draw_colorbar((1202, 1564, 1228, 1980), -2.0, 2.05, heat_cmap, [-2, -1, 0, 1, 2], ["\u22122", "\u22121", "0", "1", "2"], 10, 23)
label(1198, 1540, "Group", size=22, fontweight="bold")
label(1292, 1577, "Group", size=22, fontweight="bold")
ov.add_patch(Rectangle((1291, 1600), 45, 48, facecolor=ANNOT_TEAL, edgecolor="none"))
ov.add_patch(Rectangle((1291, 1648), 45, 47, facecolor=ANNOT_PINK, edgecolor="none"))
label(1346, 1622, "NC-Col", size=30.5, fontweight="bold")
label(1346, 1671, "PDC", size=30.5, fontweight="bold")
for i, name in enumerate(heat_cols_nc):
    label(471 + 123 * i, 2463, name, size=22.5, fontweight="bold", multialignment="left", linespacing=1.25)
for i, name in enumerate(heat_cols_pdc):
    label(884 + 122 * i, 2463, name, size=22.5, fontweight="bold", ha="center")

# ---- D
draw_heatmap(heat_d, (1940, 1552, 2580, 2352), 1.85, (1940, 1514, 2580, 1545))
tree_ax = px_axes(1786, 1552, 1940, 2352)
tree_ax.set_xlim(178, 0)
tree_ax.set_ylim(len(heat_d), 0)
tree_ax.axis("off")
draw_tree(tree_ax, d_rows, True)
tree_ax = px_axes(1940, 1374, 2580, 1512)
tree_ax.set_xlim(0, 6)
tree_ax.set_ylim(0, 197)
tree_ax.axis("off")
draw_tree(tree_ax, d_cols, False)
for i, gene in enumerate(d_genes):
    label(2589, 1552 + 42.1 * (i + 0.5), gene, size=24.8)
label(2589, 1531, "Group", size=24, fontweight="bold")
draw_colorbar((2763, 1511, 2792, 1899), -1.84, 1.85, heat_cmap, [-1.5, -1, -0.5, 0, 0.5, 1, 1.5],
              ["- 1.5", "- 1", "- 0.5", "0", "0.5", "1", "1.5"], 9, 24.5)
label(2890, 1524, "Group", size=24, fontweight="bold")
ov.add_patch(Rectangle((2890, 1545), 50, 44, facecolor=ANNOT_TEAL, edgecolor="none"))
ov.add_patch(Rectangle((2890, 1589), 50, 43, facecolor=ANNOT_PINK, edgecolor="none"))
label(2950, 1565, "NC-Col", size=26.6, fontweight="bold")
label(2950, 1612, "PDC", size=26.6, fontweight="bold")
for i, name in enumerate(heat_cols_nc):
    label(1956 + 107 * i, 2391, name, size=22.6, fontweight="bold", multialignment="left", linespacing=1.25)
for i, name in enumerate(heat_cols_pdc):
    label(2311 + 106 * i, 2391, name, size=22.6, fontweight="bold", ha="center")

# ---- E
TERM_SIZE = 16.2
ax = px_axes(623, 2852, 1168, 4062)
ax.set_xlim(0.005, 0.1014)
draw_dots(ax, e_ratio, e_terms, e_count, e_logp, (1.3, 5.76), 5.9, 7.55, TERM_SIZE)
x_grid(ax, [0.025, 0.05, 0.075, 0.1], [0.0125, 0.0375, 0.0625, 0.0875])
ax.set_xticklabels(["0.025", "0.050", "0.075", "0.100"], fontsize=16)
ax.tick_params(axis="x", length=6, width=1.8, pad=8)
label(896, 4131, "GeneRatio", size=28, ha="center")
label(1214, 3151, LOG_LABEL, size=28.3)
draw_colorbar((1214, 3200, 1262, 3482), 1.3, 5.76, dot_cmap, [2, 3, 4, 5], ["2", "3", "4", "5"], 12, 21.5, marks=True)
label(1214, 3575, "count", size=26)
for ty, c, name in [(3639, 10, "10"), (3696, 20, "20"), (3753, 30, "30")]:
    ov.scatter([1239], [ty], s=(dot_height(c, 5.9, 7.55) * 0.72) ** 2, color="black", marker=dot_marker(), linewidths=0)
    label(1280, ty, name, size=21.5)
for box in [(278, 2854, 648, 2898), (444, 2977, 619, 3020)]:
    ov.add_patch(Rectangle((box[0], box[1]), box[2] - box[0], box[3] - box[1], fill=False, edgecolor="#F5231A", lw=5.8))

# ---- F
facets = [
    (2814, 3215, f_bp_terms, f_bp_ratio, f_bp_count, f_bp_logp, "Biological process"),
    (3236, 3637, f_cc_terms, f_cc_ratio, f_cc_count, f_cc_logp, "Cellular component"),
    (3657, 4058, f_mf_terms, f_mf_ratio, f_mf_count, f_mf_logp, "Molecular function"),
]
for top, bottom, terms, ratio, count, logp, strip in facets:
    ax = px_axes(2092, top, 2688, bottom)
    ax.set_xlim(0.0131, 0.0912)
    draw_dots(ax, ratio, terms, count, logp, (3.8, 19.2), -6, 7.6, TERM_SIZE)
    x_grid(ax, [0.03, 0.05, 0.07, 0.09], [0.02, 0.04, 0.06, 0.08])
    if strip == "Molecular function":
        ax.set_xticklabels(["0.03", "0.05", "0.07", "0.09"], fontsize=16)
        ax.tick_params(axis="x", length=6, width=1.8, pad=8)
    else:
        ax.tick_params(axis="x", length=0, labelbottom=False)
    st = px_axes(2688, top, 2736, bottom, facecolor="#D9D9D9")
    st.set_xticks([])
    st.set_yticks([])
    for s in st.spines.values():
        s.set_color("#333333")
        s.set_linewidth(1.8)
    st.text(0.5, 0.5, strip, rotation=270, ha="center", va="center", fontsize=22.5, color="#1A1A1A", transform=st.transAxes)
label(2389, 4128, "GeneRatio", size=28, ha="center")
label(2782, 3096, LOG_LABEL, size=28.3)
draw_colorbar((2782, 3141, 2831, 3432), 3.8, 19.2, dot_cmap, [4, 8, 12, 16], ["4", "8", "12", "16"], 12, 21.5, marks=True)
label(2782, 3528, "count", size=26)
for ty, c, name in [(3594, 20, "20"), (3653, 30, "30"), (3711, 40, "40"), (3770, 50, "50")]:
    ov.scatter([2807], [ty], s=(dot_height(c, -6, 7.6) * 0.72) ** 2, color="black", marker=dot_marker(), linewidths=0)
    label(2849, ty, name, size=21.5)
for box in [(1715, 2934, 2090, 2982), (1695, 3169, 2090, 3227)]:
    ov.add_patch(Rectangle((box[0], box[1]), box[2] - box[0], box[3] - box[1], fill=False, edgecolor="#F5231A", lw=5.8))

# ---- panel letters
for letter, x, y in [("A", 198, 119), ("B", 1588, 120), ("C", 198, 1400), ("D", 1588, 1400), ("E", 198, 2737), ("F", 1586, 2753)]:
    label(x, y, letter, size=77, va="baseline", fontweight="bold")

fig.savefig(OUT, dpi=100, facecolor="white")
plt.close(fig)
